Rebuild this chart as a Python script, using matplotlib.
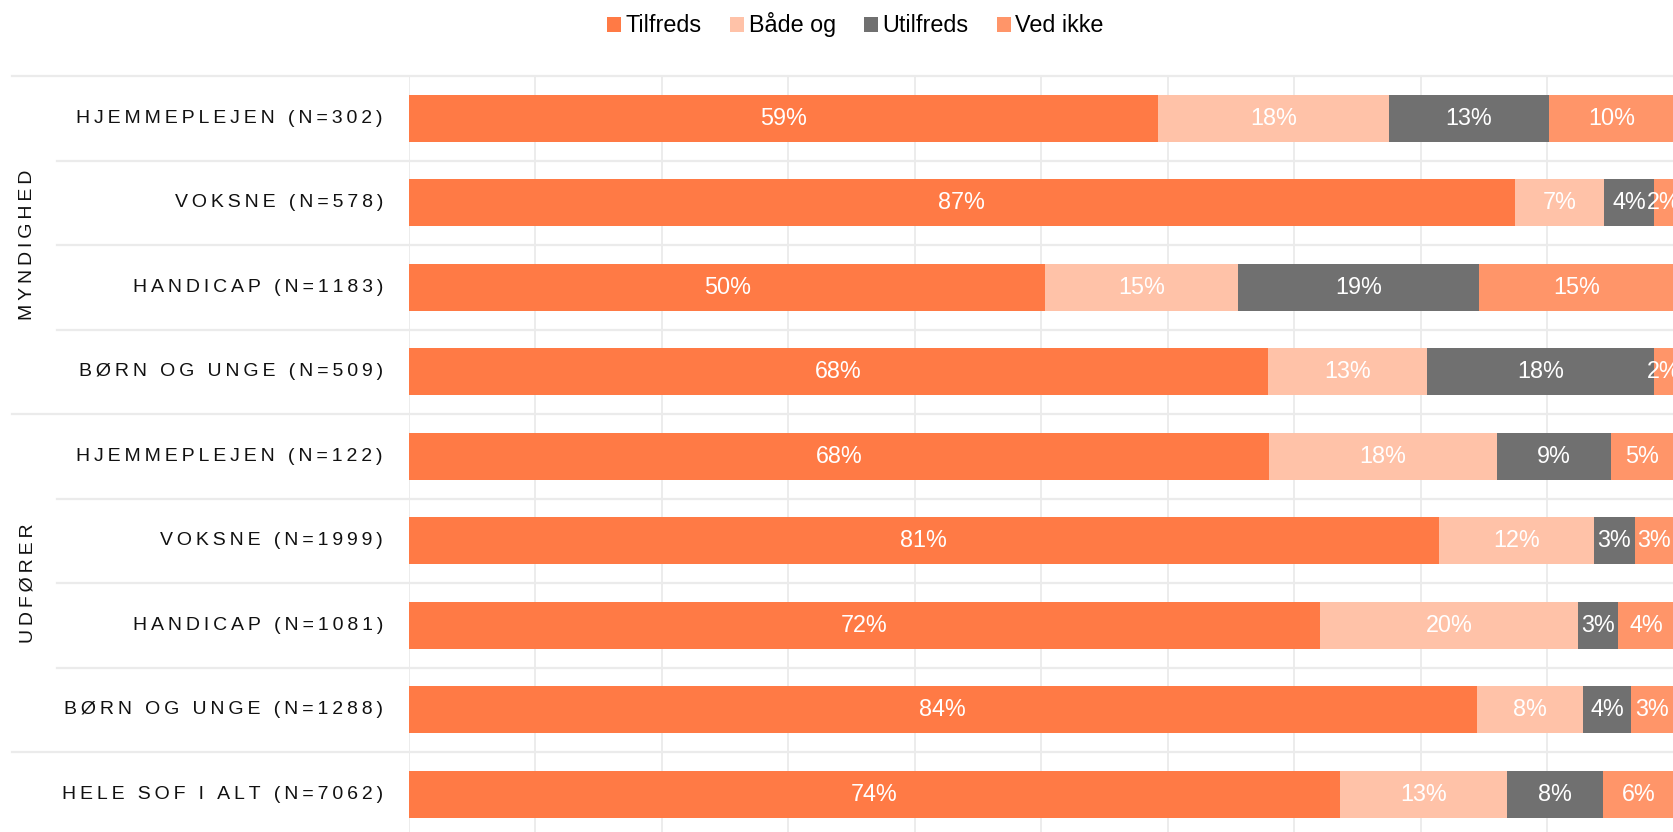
import matplotlib
matplotlib.use("Agg")
import matplotlib.pyplot as plt
from matplotlib.patches import Patch
from matplotlib.transforms import blended_transform_factory

plt.rcParams['font.family'] = ['Liberation Sans', 'DejaVu Sans']

# ---- data ----
row_labels = ["HJEMMEPLEJEN (N=302)", "VOKSNE (N=578)", "HANDICAP (N=1183)", "BØRN OG UNGE (N=509)",
              "HJEMMEPLEJEN (N=122)", "VOKSNE (N=1999)", "HANDICAP (N=1081)", "BØRN OG UNGE (N=1288)",
              "HELE SOF I ALT (N=7062)"]
groups = ["MYNDIGHED", "UDFØRER", ""]
group_rows = [4, 4, 1]
series = ["Tilfreds", "Både og", "Utilfreds", "Ved ikke"]
tilfreds = [59.2, 87.4, 50.3, 67.9, 68.0, 81.4, 72.0, 84.4, 73.6]
baade_og = [18.3, 7.1, 15.2, 12.6, 18.0, 12.3, 20.4, 8.4, 13.2]
utilfreds = [12.6, 3.9, 19.1, 17.9, 9.0, 3.2, 3.2, 3.8, 7.6]
ved_ikke = [9.9, 1.6, 15.4, 1.6, 4.9, 3.1, 4.4, 3.4, 5.6]
values = [tilfreds, baade_og, utilfreds, ved_ikke]
colors = ["#FF7A45", "#FFC2A8", "#707070", "#FF9569"]
xticks = [0, 10, 20, 30, 40, 50, 60, 70, 80, 90, 100]

W, H = 1674, 832
fig = plt.figure(figsize=(W / 100, H / 100), dpi=100)

row_h = 84.5
top_px = 76
n = len(row_labels)
ax_left = 409 / W
ax_top = 1 - top_px / H
ax_h = n * row_h / H
ax = fig.add_axes([ax_left, ax_top - ax_h, 1 - ax_left, ax_h])
ax.set_xlim(0, 100)
ax.set_ylim(n - 0.5, -0.5)
for s in ax.spines.values():
    s.set_visible(False)
ax.set_xticks([])
ax.set_yticks([])
ax.set_facecolor('none')

grid_c = "#EBEBEB"
for xt in xticks:
    ax.axvline(xt, color=grid_c, lw=1.3, zorder=0)

sp = "\u2009"
def spaced(t):
    return sp.join(list(t))

ys = list(range(n))
left = [0.0] * n
for vals, col in zip(values, colors):
    ax.barh(ys, vals, left=left, height=0.556, color=col, zorder=2, linewidth=0)
    for i, v in enumerate(vals):
        ax.text(left[i] + v / 2, i, f"{round(v)}%", ha='center', va='center',
                color='white', fontsize=16.8, zorder=3)
    left = [a + b for a, b in zip(left, vals)]

# row labels
trans_lab = blended_transform_factory(fig.transFigure, ax.transData)
for i, lab in enumerate(row_labels):
    ax.text(383 / W, i, spaced(lab), transform=trans_lab, ha='right', va='center',
            fontsize=14, color='#111111')

# horizontal separators
boundaries = []
start = 0
for g, cnt in zip(groups, group_rows):
    boundaries.append((start - 0.5, True))
    for k in range(1, cnt):
        boundaries.append((start + k - 0.5, False))
    start += cnt
boundaries.append((start - 0.5, True))
for yb, major in boundaries:
    x0 = 12 / W if major else 57 / W
    ax.plot([x0, 1.0], [yb, yb], transform=trans_lab, color=grid_c, lw=1.6,
            clip_on=False, zorder=0.5)

# group strip labels
start = 0
for g, cnt in zip(groups, group_rows):
    if g:
        ax.text(28 / W, start + (cnt - 1) / 2, spaced(g), transform=trans_lab, rotation=90,
                ha='center', va='center', fontsize=14, color='#111111')
    start += cnt

handles = [Patch(facecolor=c, edgecolor='none') for c in colors]
fig.legend(handles, series, loc='center', bbox_to_anchor=(0.511, 0.970), ncol=4,
           frameon=False, fontsize=16.8, handlelength=0.6, handleheight=0.6,
           handletextpad=0.2, columnspacing=1.2)

fig.savefig("out.png", dpi=100)
